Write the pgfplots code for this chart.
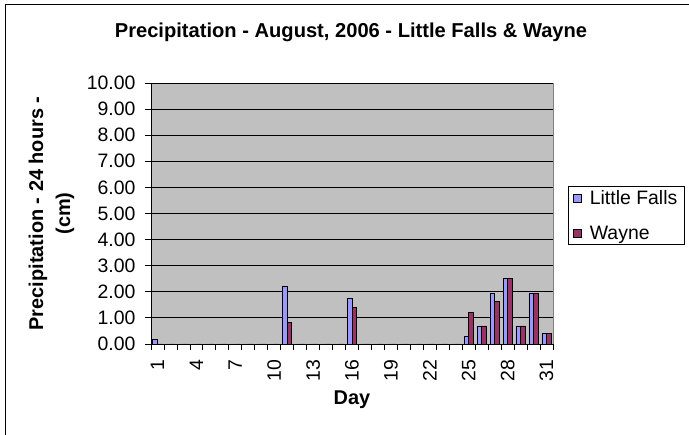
\documentclass[border=0pt]{standalone}
\usepackage{pgfplots}
\pgfplotsset{compat=1.18}
\usepackage{pgfplotstable}
\usepackage{fontspec}
\setmainfont{Liberation Sans}
\definecolor{lfblue}{HTML}{9999FF}
\definecolor{wayne}{HTML}{993366}
\definecolor{plotgray}{HTML}{C0C0C0}
\pgfplotstableread{
day lf wayne
1 0.17 0
2 0 0
3 0 0
4 0 0
5 0 0
6 0 0
7 0 0
8 0 0
9 0 0
10 0 0
11 2.21 0.82
12 0 0
13 0 0
14 0 0
15 0 0
16 1.75 1.39
17 0 0
18 0 0
19 0 0
20 0 0
21 0 0
22 0 0
23 0 0
24 0 0
25 0.28 1.21
26 0.69 0.69
27 1.92 1.62
28 2.52 2.52
29 0.69 0.69
30 1.92 1.92
31 0.41 0.41
}\datatable
\begin{document}
\begin{tikzpicture}
\useasboundingbox (0,0) rectangle (689bp,435bp);
\fill[white] (0,0) rectangle (689bp,435bp);
\draw[black, line width=1bp] (5bp,-20bp) rectangle (720bp,430bp);
\node[font=\bfseries\fontsize{20.2}{24}\selectfont] at (351bp,403bp) {Precipitation - August, 2006 - Little Falls \& Wayne};
\begin{axis}[
  at={(151bp,91bp)}, anchor=south west,
  scale only axis, width=402bp, height=261bp,
  xmin=0.5, xmax=31.5, ymin=0, ymax=10,
  ybar=0pt, bar width=4.6bp,
  axis background/.style={fill=plotgray, draw=gray},
  axis x line*=bottom, axis y line*=left,
  axis line style={-, black, line width=0.8bp},
  xtick={1,4,...,31},
  minor xtick={0.5,1.5,...,31.5},
  major x tick style={draw=none},
  minor x tick style={black, line width=0.8bp},
  minor tick length=6bp,
  ytick={0,1,...,10},
  y tick style={black, line width=0.8bp},
  major tick length=6bp,
  tick align=outside,
  ymajorgrids, grid style={black, line width=0.8bp},
  /pgf/number format/assume math mode=true,
  yticklabel={\pgfmathprintnumber[fixed, fixed zerofill, precision=2]{\tick}},
  tick label style={font=\fontsize{19.5}{22}\selectfont},
  y tick label style={xshift=-6bp},
  xticklabel style={rotate=90, anchor=east},
  xticklabel shift=6bp,
  xlabel={Day},
  ylabel={Precipitation - 24 hours -\\(cm)},
  label style={font=\bfseries\fontsize{20}{27}\selectfont},
  x label style={at={(axis description cs:0.5,-0.2146)}, anchor=center},
  y label style={at={(axis description cs:-0.2475,0.5)}, anchor=center, align=center},
  legend style={at={(1.037,0.605)}, anchor=north west, draw=black, fill=white,
    font=\fontsize{19.5}{22}\selectfont, row sep=16bp, column sep=6bp,
    inner xsep=5bp, inner ysep=2bp},
  legend cell align=left,
  legend image code/.code={\draw[#1, line width=0.8bp] (0bp,-4bp) rectangle (8bp,4bp);},
]
\addplot[fill=lfblue, draw=black, line width=0.8bp] table[x=day, y=lf] {\datatable};
\addplot[fill=wayne, draw=black, line width=0.8bp] table[x=day, y=wayne] {\datatable};
\legend{Little Falls, Wayne}
\end{axis}
\end{tikzpicture}
\end{document}
